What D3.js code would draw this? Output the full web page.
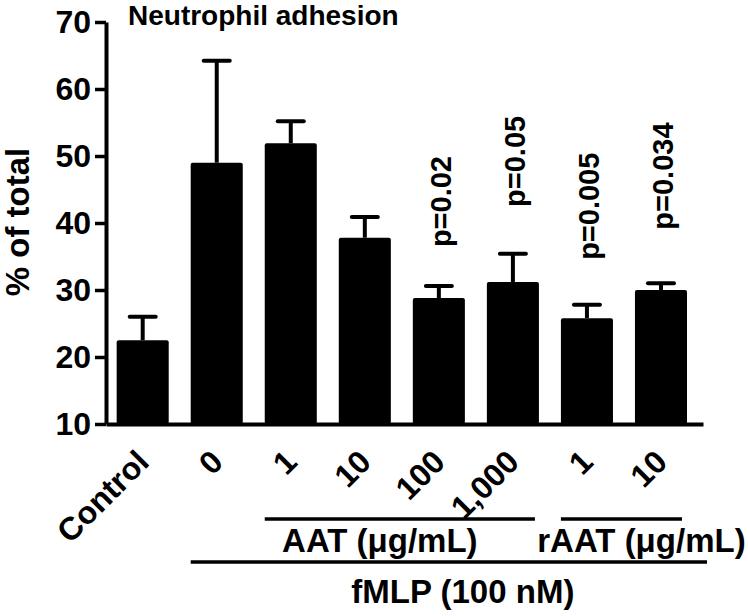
<!DOCTYPE html>
<html>
<head>
    <meta charset="utf-8">
    <script src="https://cdn.jsdelivr.net/npm/d3@7"></script>
    <style>
        body { margin: 0; background: #fff; }
        text { font-family: "Liberation Sans", Arial, sans-serif; font-weight: bold; fill: #000; }
    </style>
</head>
<body>
    <script>
        var categories = ['Control', '0', '1', '10', '100', '1,000', '1', '10'];
        var keys = ['c', 'f0', 'a1', 'a10', 'a100', 'a1000', 'r1', 'r10'];
        var means = [22.5, 49.0, 51.9, 37.8, 28.8, 31.2, 25.8, 30.0];
        var errTop = [26.0, 64.2, 55.2, 40.9, 30.6, 35.4, 27.8, 31.0];
        var yTicks = [10, 20, 30, 40, 50, 60, 70];

        // p values over the treated bars, with the value where each label starts
        var pKeys = ['a100', 'a1000', 'r1', 'r10'];
        var pTexts = ['p=0.02', 'p=0.05', 'p=0.005', 'p=0.034'];
        var pAt = [36.4, 42.4, 34.5, 39.0];

        var groupNames = ['AAT (\u03bcg/mL)', 'rAAT (\u03bcg/mL)', 'fMLP (100 nM)'];
        var groupFrom = ['a1', 'r1', 'f0'];
        var groupTo = ['a1000', 'r10', 'r10'];

        var width = 748, height = 616;

        var svg = d3.select('body')
            .append('svg')
            .attr('width', width)
            .attr('height', height);

        var x = d3.scaleBand()
            .domain(keys)
            .range([106, 703])
            .paddingInner(0.297)
            .paddingOuter(0.18)
            .align(0.4);

        var y = d3.scaleLinear()
            .domain([10, 70])
            .range([424, 22]);

        // bars
        svg.selectAll('rect.bar')
            .data(keys)
            .enter()
            .append('rect')
            .attr('class', 'bar')
            .attr('x', function (d) { return x(d); })
            .attr('y', function (d, i) { return y(means[i]); })
            .attr('width', x.bandwidth())
            .attr('height', function (d, i) { return y(10) - y(means[i]); })
            .attr('rx', 2)
            .attr('fill', '#000');

        // error bars (upper only)
        var err = svg.selectAll('g.err')
            .data(keys)
            .enter()
            .append('g')
            .attr('class', 'err')
            .attr('stroke', '#000')
            .attr('stroke-width', 4);

        err.append('line')
            .attr('x1', function (d) { return x(d) + x.bandwidth() / 2; })
            .attr('x2', function (d) { return x(d) + x.bandwidth() / 2; })
            .attr('y1', function (d, i) { return y(means[i]); })
            .attr('y2', function (d, i) { return y(errTop[i]); });

        err.append('line')
            .attr('stroke-linecap', 'round')
            .attr('x1', function (d) { return x(d) + x.bandwidth() / 2 - 13; })
            .attr('x2', function (d) { return x(d) + x.bandwidth() / 2 + 13; })
            .attr('y1', function (d, i) { return y(errTop[i]); })
            .attr('y2', function (d, i) { return y(errTop[i]); });

        // y axis
        var yAxis = svg.append('g')
            .attr('transform', 'translate(106,0)')
            .call(d3.axisLeft(y).tickValues(yTicks).tickSize(11).tickPadding(4).tickSizeOuter(0));
        yAxis.select('.domain').attr('stroke-width', 4);
        yAxis.selectAll('.tick line').attr('stroke-width', 3.5);
        yAxis.selectAll('.tick text')
            .style('font-size', '32px');

        // x axis
        var xAxis = svg.append('g')
            .attr('transform', 'translate(0,424)')
            .call(d3.axisBottom(x).tickSize(0).tickFormat(function (d, i) { return categories[i]; }));
        xAxis.select('.domain').attr('stroke-width', 4);
        xAxis.selectAll('.tick text')
            .style('font-size', '32px')
            .attr('y', 0)
            .attr('dy', 0)
            .attr('text-anchor', 'end')
            .attr('transform', 'translate(8,40) rotate(-45)');

        // p value labels
        svg.selectAll('text.pval')
            .data(pKeys)
            .enter()
            .append('text')
            .attr('class', 'pval')
            .attr('transform', function (d, i) {
                return 'translate(' + (x(d) + x.bandwidth() / 2 + 12) + ',' + y(pAt[i]) + ') rotate(-90)';
            })
            .style('font-size', '29px')
            .text(function (d, i) { return pTexts[i]; });

        // group brackets under the axis
        var lineY = [519, 519, 562];
        var lineEnd = [-4, -5, 20];
        var labelY = [552, 552, 603];
        var labelShift = [-20, 20, 14];
        groupNames.forEach(function (name, i) {
            var x0 = x(groupFrom[i]);
            var x1 = x(groupTo[i]) + x.bandwidth() + lineEnd[i];
            svg.append('line')
                .attr('x1', x0).attr('x2', x1)
                .attr('y1', lineY[i]).attr('y2', lineY[i])
                .attr('stroke', '#000')
                .attr('stroke-width', 3.5);
            svg.append('text')
                .attr('x', (x0 + x1) / 2 + labelShift[i])
                .attr('y', labelY[i])
                .attr('text-anchor', 'middle')
                .style('font-size', '33px')
                .text(name);
        });

        // title
        svg.append('text')
            .attr('x', 128)
            .attr('y', 25)
            .style('font-size', '28px')
            .text('Neutrophil adhesion');

        // y label
        svg.append('text')
            .attr('transform', 'translate(29,222) rotate(-90)')
            .attr('text-anchor', 'middle')
            .style('font-size', '33px')
            .text('% of total');
    </script>
</body>
</html>
